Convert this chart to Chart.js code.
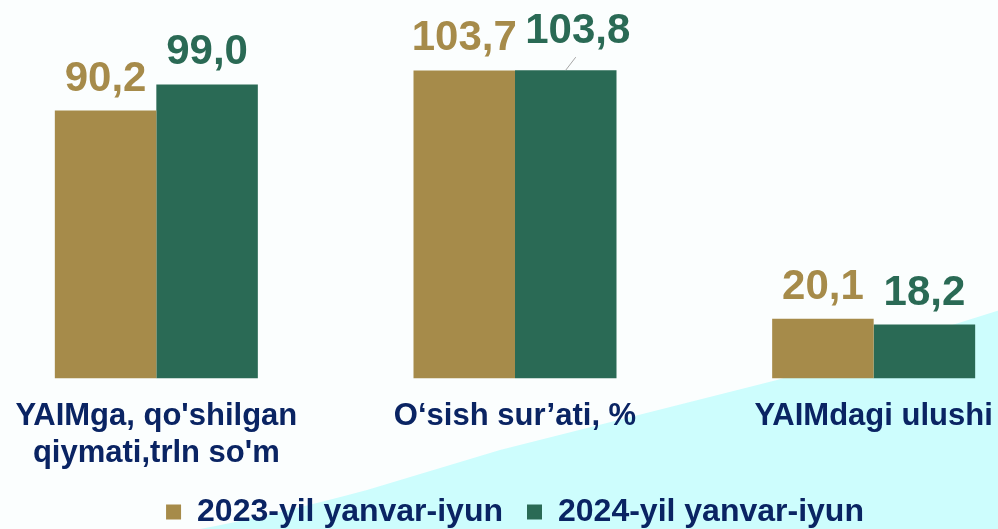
<!DOCTYPE html>
<html>
<head>
<meta charset="utf-8">
<script src="https://cdn.jsdelivr.net/npm/chart.js@4.4.1/dist/chart.umd.min.js"></script>
<style>
  html, body { margin: 0; padding: 0; width: 998px; height: 529px; overflow: hidden; background: #fbfefe; }
  #wrap { position: absolute; left: -23px; top: 0; width: 1076px; height: 538px; }
</style>
</head>
<body>
<div id="wrap"><canvas id="chart"></canvas></div>
<script>
// chart data
const categories = [["YAIMga, qo'shilgan", "qiymati,trln so'm"], "O\u2018sish sur\u2019ati, %", "YAIMdagi ulushi"];
const seriesNames = ["2023-yil yanvar-iyun", "2024-yil yanvar-iyun"];
const values2023 = [90.2, 103.7, 20.1];
const values2024 = [99.0, 103.8, 18.2];

const GOLD = '#a68b4a';
const GREEN = '#2a6a55';
const NAVY = '#0a2463';
const FONT = '"Liberation Sans", Arial, sans-serif';

// pale cyan background shape (page coords, the canvas is shifted 23px left)
const bgShape = {
  id: 'bgShape',
  beforeDraw(chart) {
    const ctx = chart.ctx;
    const dx = 23;
    ctx.save();
    ctx.fillStyle = '#fbfefe';
    ctx.fillRect(0, 0, chart.width, chart.height);
    ctx.fillStyle = '#cdfdfd';
    ctx.beginPath();
    ctx.moveTo(195 + dx, 600);
    ctx.lineTo(200 + dx, 529);
    ctx.quadraticCurveTo(270 + dx, 516, 367 + dx, 490);
    ctx.lineTo(500 + dx, 450);
    ctx.lineTo(777 + dx, 380);
    ctx.lineTo(1000 + dx, 310);
    ctx.lineTo(1000 + dx, 600);
    ctx.closePath();
    ctx.fill();
    ctx.restore();
  }
};

// value labels above the bars, decimal comma
const valueLabels = {
  id: 'valueLabels',
  afterDatasetsDraw(chart, args, opts) {
    const ctx = chart.ctx;
    ctx.save();
    ctx.font = 'bold 42px ' + FONT;
    ctx.textAlign = 'center';
    ctx.textBaseline = 'alphabetic';
    chart.data.datasets.forEach((ds, i) => {
      chart.getDatasetMeta(i).data.forEach((bar, j) => {
        const nudge = (opts.nudge || {})[i + '-' + j];
        let x = bar.x, y = bar.y - 20;
        if (nudge) {
          // leader line from bar top to shifted label
          ctx.strokeStyle = '#a6a6a6';
          ctx.lineWidth = 1;
          ctx.beginPath();
          ctx.moveTo(bar.x, bar.y);
          ctx.lineTo(bar.x + 10, bar.y - 13);
          ctx.stroke();
          x += nudge[0];
          y += nudge[1];
        }
        ctx.fillStyle = ds.backgroundColor;
        ctx.fillText(ds.data[j].toFixed(1).replace('.', ','), x, y);
      });
    });
    ctx.restore();
  }
};

new Chart(document.getElementById('chart'), {
  type: 'bar',
  data: {
    labels: categories,
    datasets: [
      { label: seriesNames[0], data: values2023, backgroundColor: GOLD },
      { label: seriesNames[1], data: values2024, backgroundColor: GREEN }
    ]
  },
  options: {
    responsive: true,
    maintainAspectRatio: false,
    animation: false,
    layout: { padding: 0 },
    datasets: { bar: { categoryPercentage: 0.566, barPercentage: 1.0 } },
    scales: {
      x: {
        grid: { display: false, tickLength: 19 },
        border: { display: false },
        ticks: { color: NAVY, padding: 0, font: { family: FONT, size: 31, weight: 'bold', lineHeight: 1.2 } }
      },
      y: { display: false, min: 0, max: 127.4 }
    },
    plugins: {
      tooltip: { enabled: false },
      valueLabels: { nudge: { '1-1': [12, -7] } },
      legend: {
        position: 'bottom',
        labels: {
          color: NAVY,
          boxWidth: 15,
          boxHeight: 15,
          padding: 24,
          font: { family: FONT, size: 32, weight: 'bold' }
        }
      }
    }
  },
  plugins: [bgShape, valueLabels]
});
</script>
</body>
</html>
